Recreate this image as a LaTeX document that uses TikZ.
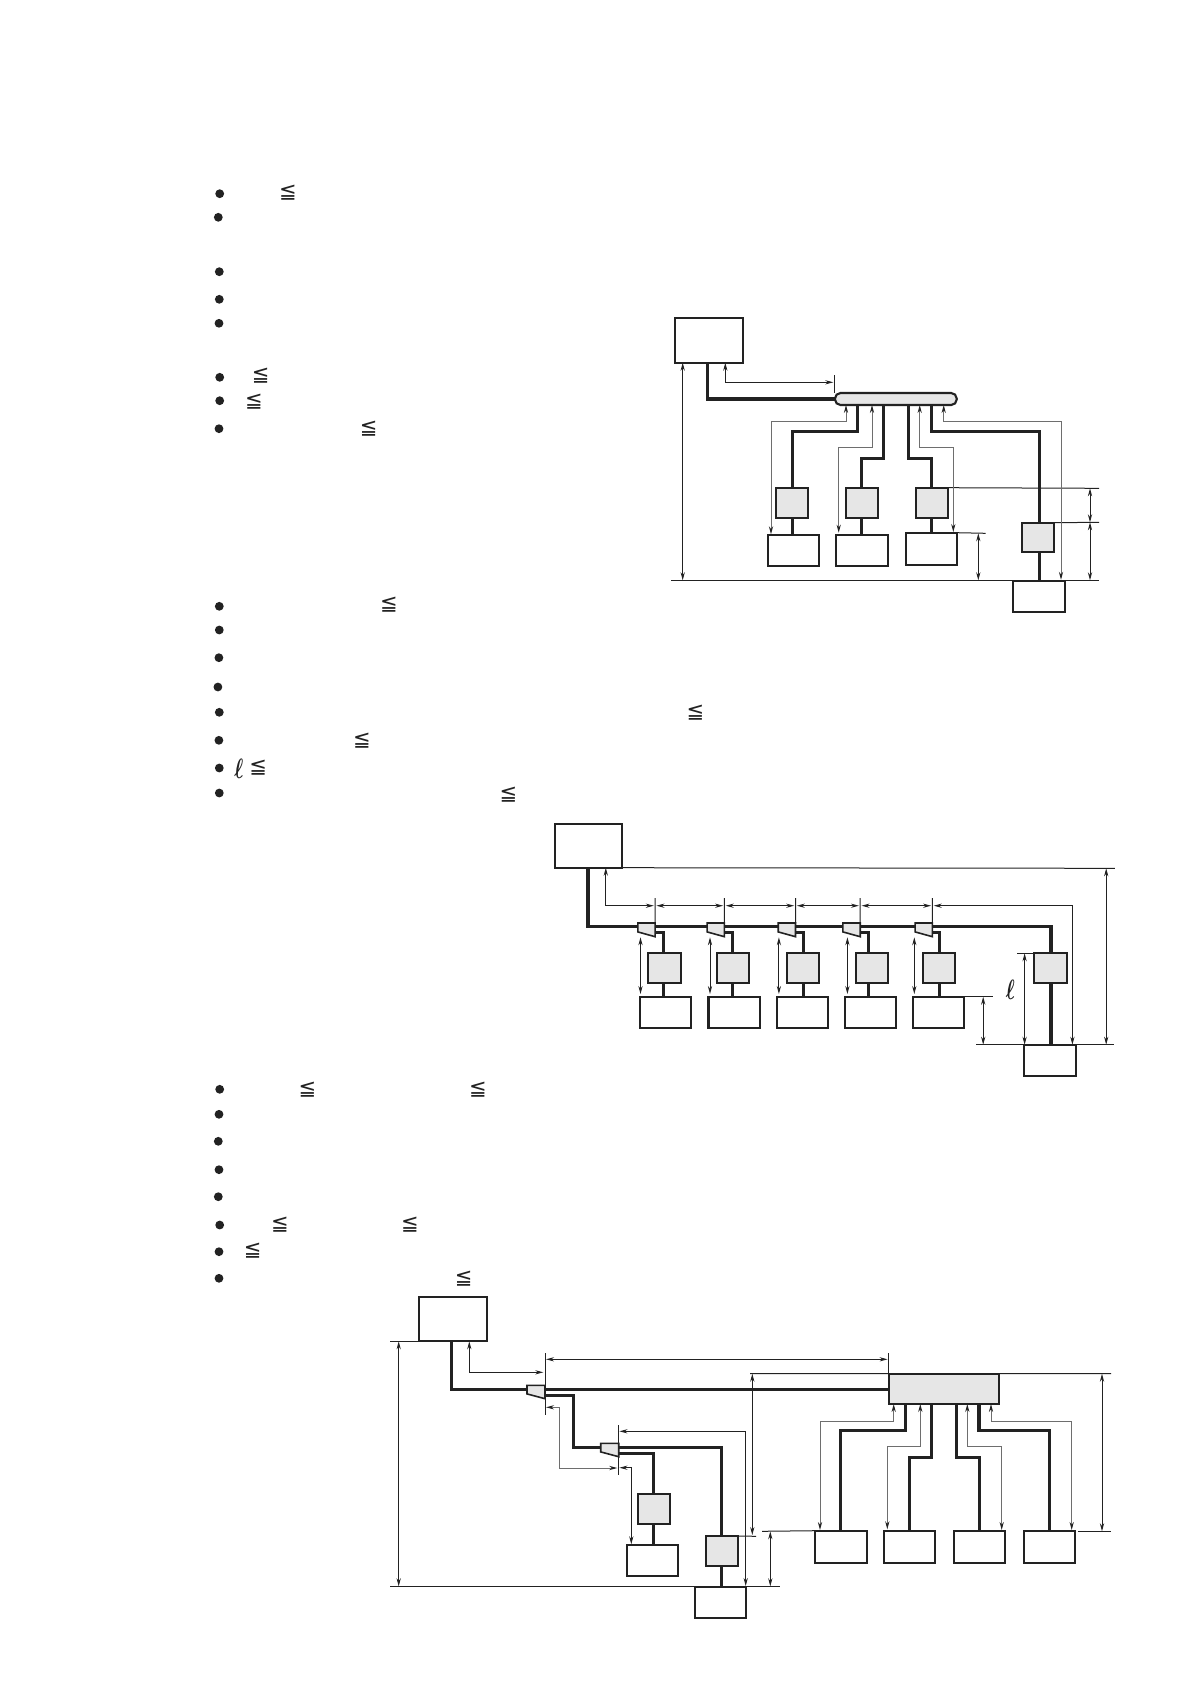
\documentclass[tikz,border=0pt]{standalone}
\usepackage{amsmath,amssymb}
\usepackage[no-math]{fontspec}
\newfontfamily\relfont{DejaVu Sans}
\usetikzlibrary{arrows.meta,calc}
\definecolor{ink}{HTML}{222222}
\definecolor{unitgray}{HTML}{E6E6E6}
\definecolor{routegray}{HTML}{6E6E6E}
\tikzset{
  unitbox/.style={draw=ink,line width=2.1pt,fill=white,inner sep=0pt,outer sep=0pt},
  graybox/.style={unitbox,fill=unitgray},
  headerbox/.style={graybox,rounded corners=5.5pt},
  pipe/.style={draw=ink,line width=3.4pt,line join=miter},
  stub/.style={draw=ink,line width=3pt},
  thinline/.style={draw=ink,line width=1pt},
  dim/.style={thinline,{Stealth[length=8pt,width=4.2pt]}-{Stealth[length=8pt,width=4.2pt]}},
  route/.style={dim,draw=routegray,{Stealth[length=8pt,width=4.2pt,ink]}-{Stealth[length=8pt,width=4.2pt,ink]}},
  dot/.style={circle,fill=ink,draw=none,minimum size=8.8pt,inner sep=0pt},
  leqmark/.style={inner sep=0pt,text=ink,font=\relfont\fontsize{21}{21}\selectfont},
  ellmark/.style={inner sep=0pt,xscale=1.9,yscale=2.8,text=ink},
  valvebody/.style={draw=ink,line width=1.6pt,fill=unitgray,line join=miter},
  anchorbox/.style={inner sep=0pt,outer sep=0pt,draw=none}
}
\newcommand{\boxat}[6]{\node[#6,minimum width={(#4-#2)*1pt},minimum height={(#5-#3)*1pt}] (#1) at ({(#2+#4)/2},{(#3+#5)/2}) {};}
\newcommand{\valveat}[5]{% name, xleft, ytop, xright, ybottom
  \boxat{#1}{#2}{#3}{#4}{#5}{anchorbox}
  \draw[valvebody] (#1.north west) -- (#1.north east) -- (#1.south east) -- ([yshift=4.8pt]#1.south west) -- cycle;}
\begin{document}
\begin{tikzpicture}[x=1pt,y=-1pt]
\useasboundingbox (0,0) rectangle (1191,1684);
% ---------- bullets
\foreach \n/\x/\y in {1/219.7/193.7,2/218.3/217.3,3/219.3/271.7,4/219.3/299.3,5/219/323.3,6/219.7/377.3,7/219.7/400.7,8/219/428.7,
  9/219.3/606.3,10/219.3/630,11/218.9/657.7,12/217.9/687,13/219.3/712.3,14/218.9/740.3,15/219.3/768,16/219.3/793,
  17/219.7/1089.3,18/219/1114.3,19/218.3/1141.3,20/219/1169.7,21/218.3/1196.7,22/219.7/1225,23/219/1251.7,24/219/1278.3}
  \node[dot] (b\n) at (\x,\y) {};
\foreach \n/\x/\y in {1/288/192.3,2/260.7/375.7,3/254/401.7,4/368.7/428.3,
  5/389/604.3,6/695.5/712.7,7/361.8/740.3,8/258.2/767.7,9/508.5/794.3,
  10/307.3/1089.3,11/478/1089.3,12/280/1224.3,13/410/1224.3,14/252.7/1251,15/463.7/1278.3}
  \node[leqmark] (q\n) at (\x,\y) {≦};
\node[ellmark] (ell1) at (238.9,768.3) {$\boldsymbol{\ell}$};
\node[ellmark] (ell2) at (1010.3,990) {$\boldsymbol{\ell}$};

% ========== diagram 1
\boxat{AT}{674.7}{317.7}{743.3}{362.7}{unitbox}
\boxat{AH}{835}{393}{956.7}{405}{headerbox}
\boxat{AG1}{775.7}{487.7}{808.3}{518.3}{graybox}
\boxat{AG2}{845.7}{487.7}{878.3}{518.3}{graybox}
\boxat{AG3}{916}{487.7}{948.3}{518.3}{graybox}
\boxat{AG4}{1021.7}{522.7}{1054.3}{552}{graybox}
\boxat{AW1}{767.7}{534.7}{819.3}{566}{unitbox}
\boxat{AW2}{835.7}{534.7}{888.3}{566}{unitbox}
\boxat{AW3}{906}{532.7}{957}{565}{unitbox}
\boxat{AW4}{1013}{581}{1065}{612}{unitbox}
\draw[pipe] (AT.south -| 707.3,0) |- (AH.west);
\draw[pipe] (AH.south -| 857.3,0) -- (857.3,431.7) -- (792.3,431.7) -- (AG1.north -| 792.3,0);
\draw[pipe] (AH.south -| 883.3,0) -- (883.3,458.3) -- (861.3,458.3) -- (AG2.north -| 861.3,0);
\draw[pipe] (AH.south -| 908.3,0) -- (908.3,458.3) -- (931.3,458.3) -- (AG3.north -| 931.3,0);
\draw[pipe] (AH.south -| 931.3,0) -- (931.3,431.7) -- (1039.7,431.7) -- (AG4.north -| 1039.7,0);
\draw[stub] (AG1.south -| 792.3,0) -- (AW1.north -| 792.3,0);
\draw[stub] (AG2.south -| 861.3,0) -- (AW2.north -| 861.3,0);
\draw[stub] (AG3.south -| 931.3,0) -- (AW3.north -| 931.3,0);
\draw[pipe] (AG4.south -| 1039.7,0) -- (AW4.north -| 1039.7,0);
\coordinate (Agl) at (671,580.3); \coordinate (Agr) at (1099,580.3);
\coordinate (Ar1) at (1099,488.3); \coordinate (Ar2) at (1099,522.3); \coordinate (Al3) at (985.7,533.3);
\coordinate (Atk) at (834.3,375);
\draw[thinline] (Agl) -- (Agr);
\draw[thinline] (AG3.north east) -- (Ar1);
\draw[thinline] (AG4.north east) -- (Ar2);
\draw[thinline] (AW3.north east) -- (Al3);
\draw[thinline] (Atk) -- (Atk |- AH.north);
\draw[dim] (AT.south -| 682.7,0) -- (682.7,580.3);
\draw[dim] (AT.south -| 725.3,0) -- (725.3,382.3) -- (833.3,382.3);
\draw[dim] (1090,488.3) -- (1090,522.3);
\draw[dim] (1090,522.3) -- (1090,580.3);
\draw[dim] (978.3,533.3) -- (978.3,580.3);
\draw[route] (AH.south -| 846,0) -- (846,421.7) -- (771,421.7) -- (771,534.3);
\draw[route] (AH.south -| 872,0) -- (872,447.3) -- (838.7,447.3) -- (838.7,532.7);
\draw[route] (AH.south -| 919.7,0) -- (919.7,447.3) -- (953.3,447.3) -- (953.3,532);
\draw[route] (AH.south -| 943.7,0) -- (943.7,421.7) -- (1061,421.7) -- (1061,579.8);

% ========== diagram 2
\boxat{BT}{554.7}{823.7}{622.4}{867.7}{unitbox}
\draw[pipe] (BT.south -| 587.8,0) -- (587.8,926.3) -- (1050.9,926.3) -- (1050.9,953.3);
\foreach \n/\l/\bx/\gl/\wl in {1/637.8/663.4/648/639.7,2/707.1/732.6/716.8/708.5,3/778.2/803.4/786.8/776.6,4/842.9/868.4/855.7/844.7,5/915.1/939.2/922.6/912.8}{
  \pgfmathsetmacro{\vr}{\l+17.3}
  \pgfmathsetmacro{\gr}{\gl+32.6}
  \pgfmathsetmacro{\wr}{\wl+51.6}
  \boxat{BG\n}{\gl}{953.3}{\gr}{983}{graybox}
  \boxat{BW\n}{\wl}{996.7}{\wr}{1028}{unitbox}
  \draw[stub] (\vr,932) -- (\bx,932) -- (BG\n.north -| \bx,0);
  \draw[stub] (BG\n.south -| \bx,0) -- (BW\n.north -| \bx,0);
  \valveat{BV\n}{\l}{923}{\vr}{936.7}
  \coordinate (Bt\n) at (\vr,898);
  \draw[thinline] (Bt\n) -- (BV\n.north east);
}
\boxat{BG6}{1033.6}{953.3}{1066.7}{983}{graybox}
\boxat{BW6}{1023.8}{1044.7}{1075.7}{1076}{unitbox}
\draw[pipe] (BG6.south -| 1050.9,0) -- (BW6.north -| 1050.9,0);
\coordinate (Blg) at (976.4,1044.7); \coordinate (Brg) at (1113.7,1044.7);
\coordinate (Btr) at (1114.9,868.3); \coordinate (Bl5) at (993.4,996.7); \coordinate (Btg) at (1017,953.3);
\draw[thinline] (Blg) -- (Brg);
\draw[thinline] (BT.south east) -- (Btr);
\draw[thinline] (BW5.north east) -- (Bl5);
\draw[thinline] (Btg) -- (BG6.north west);
\draw[dim] (1106.2,868.3) -- (1106.2,1044.7);
\draw[dim] (BT.south -| 605.8,0) -- (605.8,905.7) -- (653.8,905.7);
\draw[dim] (656.4,905.7) -- (723.1,905.7);
\draw[dim] (725.7,905.7) -- (794.2,905.7);
\draw[dim] (796.8,905.7) -- (858.9,905.7);
\draw[dim] (861.5,905.7) -- (931.1,905.7);
\draw[dim] (933.7,905.7) -- (1072.4,905.7) -- (1072.4,1044.7);
\foreach \x in {640.5,710,778.9,847.4,914.3}
  \draw[dim] (\x,937.3) -- (\x,994);
\draw[dim] (983.2,996.7) -- (983.2,1044.7);
\draw[dim] (1024.6,953.3) -- (1024.6,1044.7);

% ========== diagram 3
\boxat{CT}{419}{1296.7}{487}{1341.3}{unitbox}
\boxat{CH}{889}{1373.7}{999.3}{1404}{graybox}
\boxat{CGa}{637.7}{1493.7}{670.3}{1524.3}{graybox}
\boxat{CGb}{705.7}{1536}{738.3}{1566}{graybox}
\boxat{CWa}{627}{1544.7}{678.3}{1576}{unitbox}
\boxat{CWb}{694.7}{1587}{746.3}{1618}{unitbox}
\boxat{CW1}{814.7}{1530.7}{867.3}{1563}{unitbox}
\boxat{CW2}{883.7}{1530.7}{935.3}{1563}{unitbox}
\boxat{CW3}{953.7}{1530.7}{1005.3}{1563}{unitbox}
\boxat{CW4}{1023.7}{1530.7}{1075.3}{1563}{unitbox}
\draw[pipe] (CT.south -| 451.3,0) -- (451.3,1389.3) -- (889,1389.3);
\draw[pipe] (545,1395.3) -- (573.3,1395.3) -- (573.3,1447.3) -- (721.7,1447.3) -- (CGb.north -| 721.7,0);
\draw[pipe] (618.7,1453.3) -- (653.3,1453.3) -- (CGa.north -| 653.3,0);
\draw[stub] (CGa.south -| 653.3,0) -- (CWa.north -| 653.3,0);
\draw[pipe] (CGb.south -| 721.7,0) -- (CWb.north -| 721.7,0);
\valveat{CV1}{527}{1385.3}{545}{1398.7}
\valveat{CV2}{600.7}{1443.3}{618.7}{1456.7}
\draw[pipe] (CH.south -| 905.3,0) -- (905.3,1430.3) -- (840.3,1430.3) -- (CW1.north -| 840.3,0);
\draw[pipe] (CH.south -| 931.7,0) -- (931.7,1457.3) -- (909.3,1457.3) -- (CW2.north -| 909.3,0);
\draw[pipe] (CH.south -| 956.7,0) -- (956.7,1457.3) -- (979.3,1457.3) -- (CW3.north -| 979.3,0);
\draw[pipe] (CH.south -| 979,0) -- (979,1430.3) -- (1049.3,1430.3) -- (CW4.north -| 1049.3,0);
\coordinate (Cgl) at (390,1586.3); \coordinate (Cgr) at (780,1586.3); \coordinate (Ctl) at (390,1341.3);
\coordinate (Chl) at (750,1373.5); \coordinate (Chr) at (1111,1373.5);
\coordinate (Cgb) at (756,1536.3); \coordinate (Cll) at (762,1531.3); \coordinate (Clr) at (1111,1531.3); \coordinate (Clm) at (1078,1531.3);
\draw[thinline] (Cgl) -- (Cgr);
\draw[thinline] (Ctl) -- (CT.south west);
\draw[thinline] (Chl) -- (CH.north west);
\draw[thinline] (CH.north east) -- (Chr);
\draw[thinline] (CGb.north east) -- (Cgb);
\draw[thinline] (Cll) -- (CW1.north west);
\draw[thinline] (Clm) -- (Clr);
\draw[thinline] (545.3,1353) -- (545.3,1414.7);
\draw[thinline] (618.7,1425) -- (618.7,1474.7);
\draw[thinline] (888.3,1353.3) -- (888.3,1373.5);
\draw[dim] (398.7,1341.3) -- (398.7,1586.3);
\draw[dim] (CT.south -| 469.3,0) -- (469.3,1372.3) -- (543.3,1372.3);
\draw[dim] (546,1359.3) -- (887.6,1359.3);
\draw[dim] (619.4,1431.3) -- (745.7,1431.3) -- (745.7,1586);
\draw[dim] (619.4,1467.7) -- (631.3,1467.7) -- (631.3,1544.3);
\draw[dim] (752.3,1373.7) -- (752.3,1535);
\draw[dim] (770.3,1531.3) -- (770.3,1586.3);
\draw[dim] (1102,1373.7) -- (1102,1531.3);
\draw[route] (546,1407.3) -- (559.3,1407.3) -- (559.3,1468) -- (617.3,1468);
\draw[route] (CH.south -| 893.7,0) -- (893.7,1421) -- (820,1421) -- (820,1530);
\draw[route] (CH.south -| 920.3,0) -- (920.3,1446.7) -- (887.3,1446.7) -- (887.3,1529.3);
\draw[route] (CH.south -| 967.3,0) -- (967.3,1446.7) -- (1001.7,1446.7) -- (1001.7,1530);
\draw[route] (CH.south -| 991,0) -- (991,1421) -- (1071.7,1421) -- (1071.7,1530);
\end{tikzpicture}
\end{document}
